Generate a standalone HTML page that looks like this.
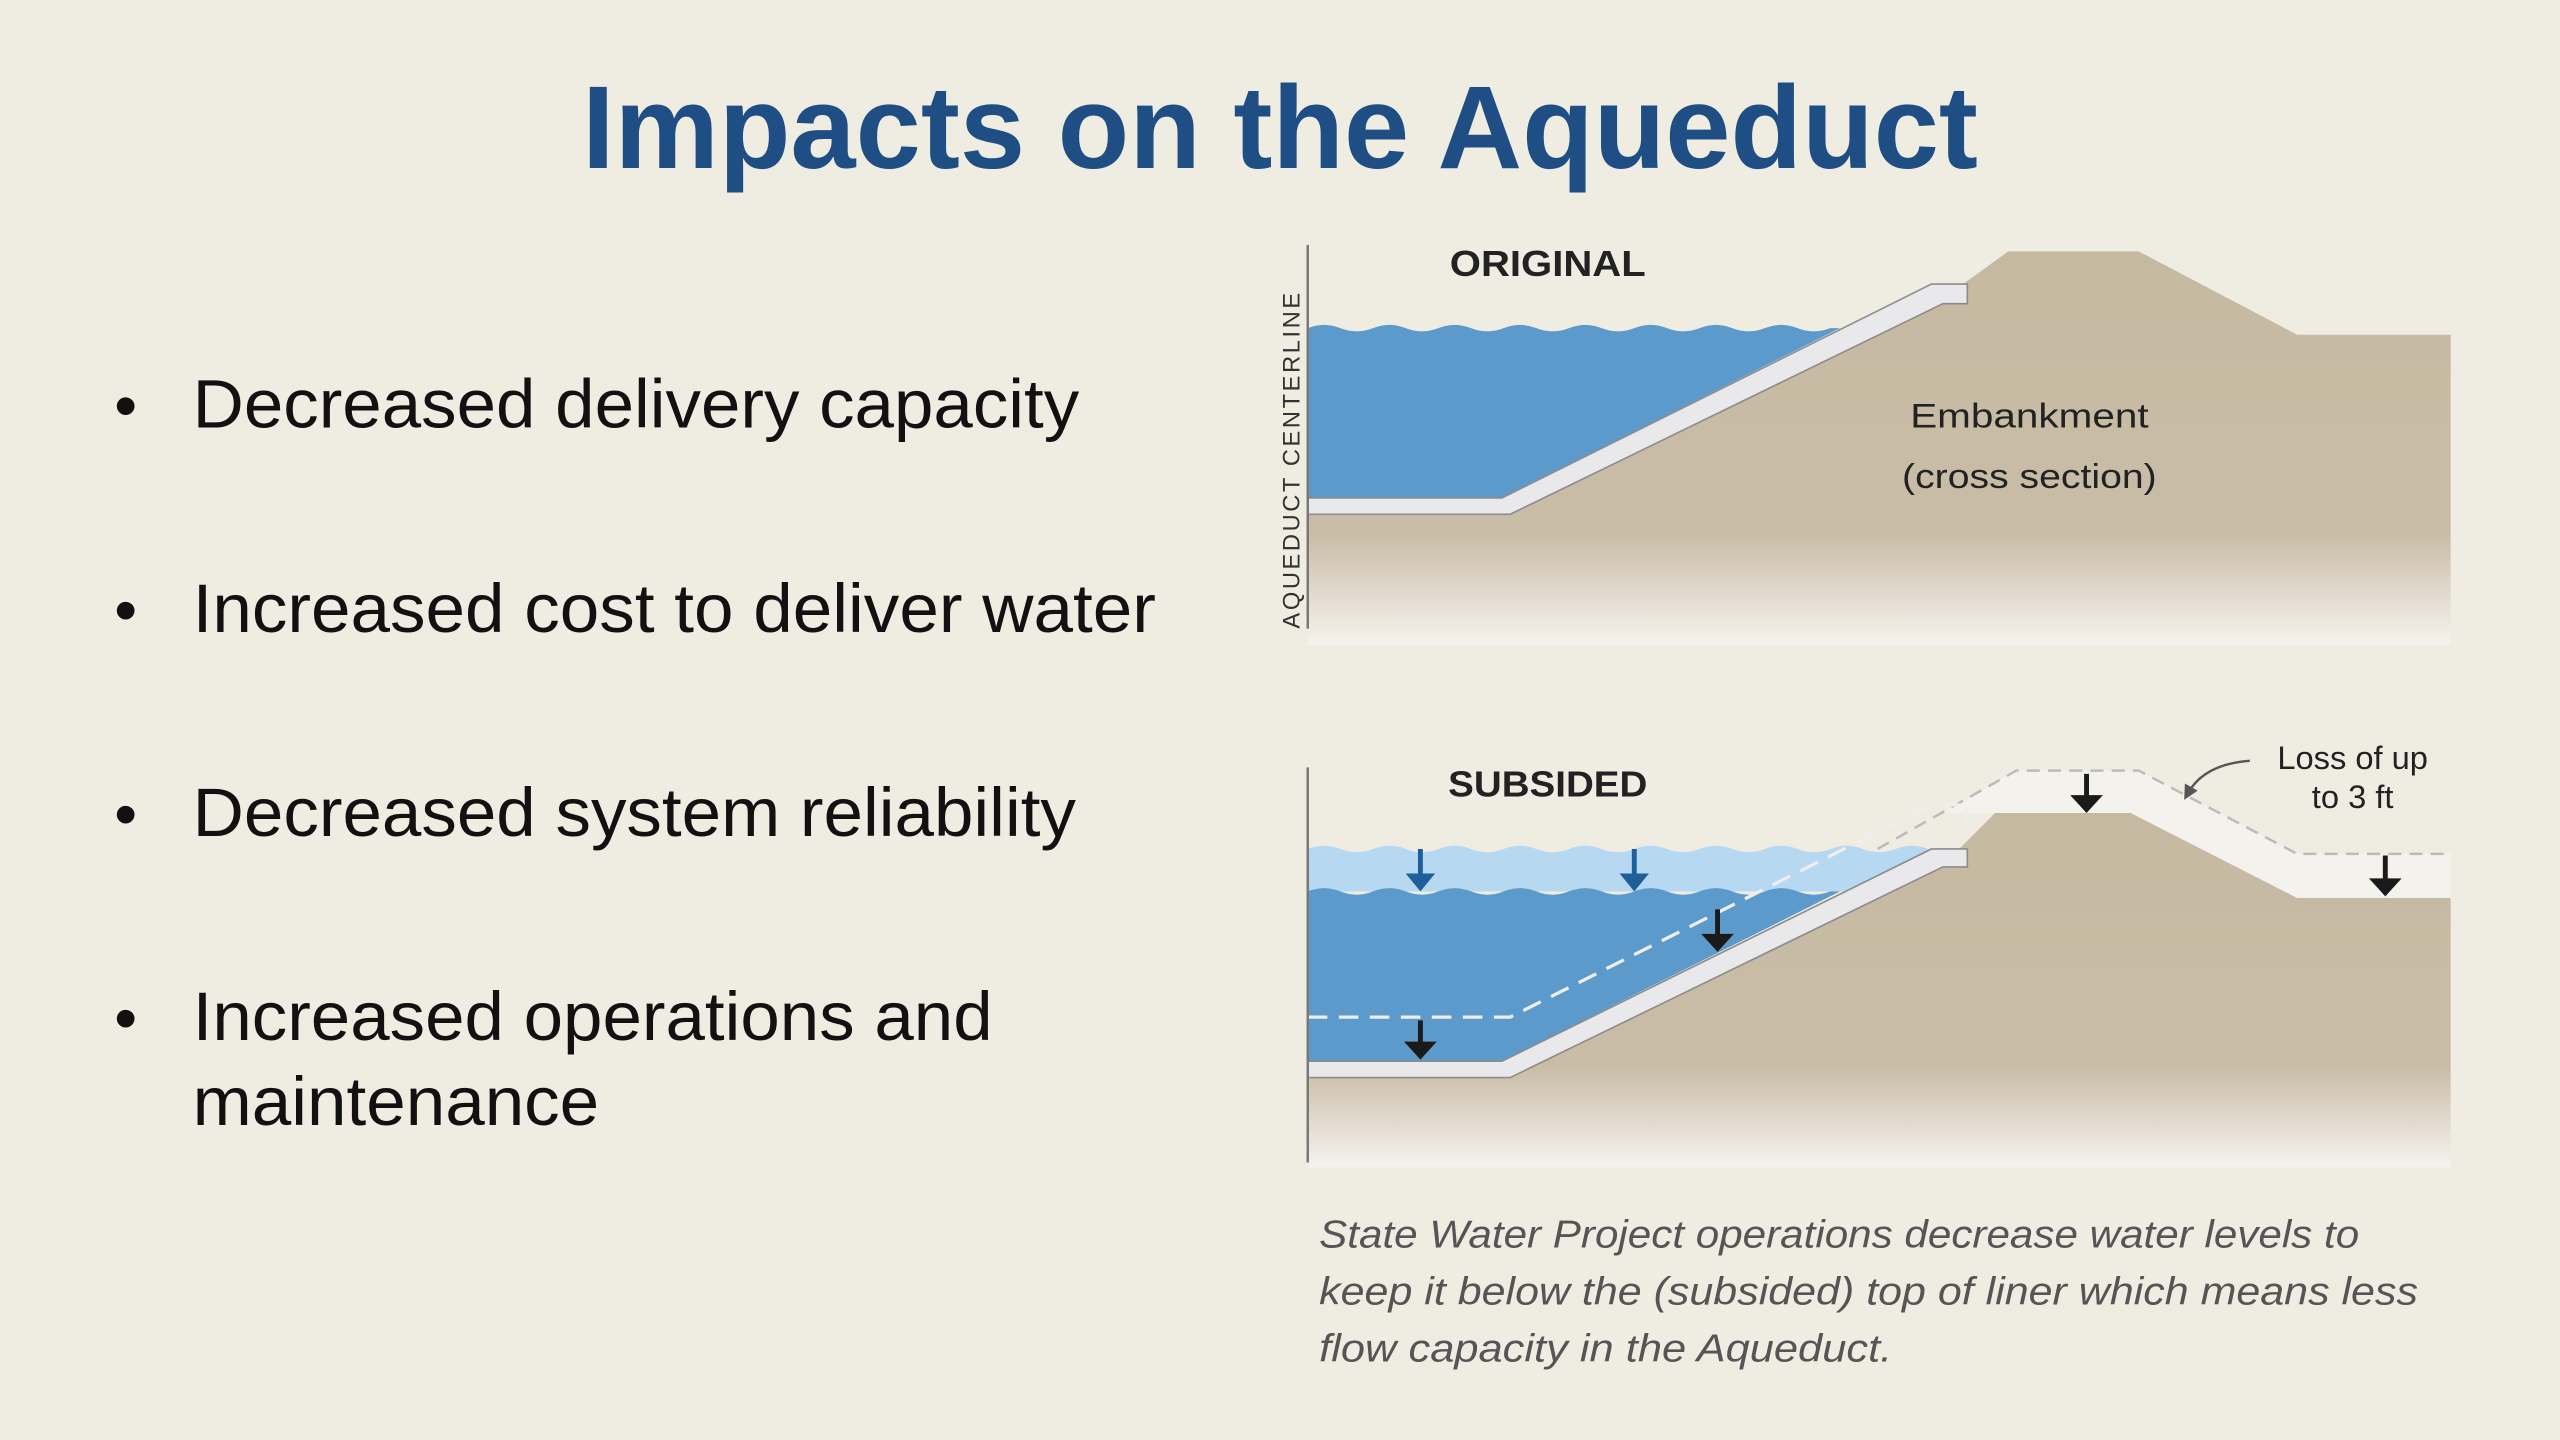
<!DOCTYPE html>
<html><head><meta charset="utf-8"><style>
html,body{margin:0;padding:0;background:#efece2;}
svg{display:block;}
</style></head><body>
<svg width="2560" height="1440" viewBox="0 0 1568 882" xmlns="http://www.w3.org/2000/svg" font-family="Liberation Sans, sans-serif">
<defs>
<linearGradient id="g1" x1="0" y1="0" x2="0" y2="1" gradientUnits="objectBoundingBox">
<stop offset="0" stop-color="#c6b9a2"/><stop offset="0.72" stop-color="#c9bda7"/><stop offset="1" stop-color="#f6f3ee"/></linearGradient>
<marker id="ah" markerWidth="6" markerHeight="6" refX="3" refY="3" orient="auto"><path d="M0,0 L6,3 L0,6 z" fill="#555"/></marker>
</defs>
<rect width="1568" height="882" fill="#efece2"/>
<text x="784" y="103" text-anchor="middle" font-size="72" font-weight="bold" fill="#1f4e85" textLength="855" lengthAdjust="spacingAndGlyphs">Impacts on the Aqueduct</text>
<g font-size="42" fill="#111">
<text x="70" y="262" font-size="40">•</text><text x="118" y="262" textLength="543" lengthAdjust="spacingAndGlyphs">Decreased delivery capacity</text>
<text x="70" y="387" font-size="40">•</text><text x="118" y="387" textLength="590" lengthAdjust="spacingAndGlyphs">Increased cost to deliver water</text>
<text x="70" y="512" font-size="40">•</text><text x="118" y="512" textLength="541" lengthAdjust="spacingAndGlyphs">Decreased system reliability</text>
<text x="70" y="637" font-size="40">•</text><text x="118" y="637" textLength="490" lengthAdjust="spacingAndGlyphs">Increased operations and</text>
<text x="118" y="689" textLength="249" lengthAdjust="spacingAndGlyphs">maintenance</text>
</g>

<g>
<polygon points="801,315 925,315 1190,183 1230,154 1310,154 1407,205 1501,205 1501,395 801,395" fill="url(#g1)"/>
<path d="M801,201 q10,-4 20,0 t20,0 t20,0 t20,0 t20,0 t20,0 t20,0 t20,0 t20,0 t20,0 t20,0 t20,0 t20,0 t20,0 t20,0 t20,0 L1127,201 L920,305 L801,305 z" fill="#5b9acb"/>
<polygon points="801,305 920,305 1183,174 1205,174 1205,186 1190,186 925,315 801,315" fill="#e9e9ec" stroke="#8c8c8c" stroke-width="1"/>
<line x1="801" y1="150" x2="801" y2="385" stroke="#777" stroke-width="1.5"/>
<text transform="translate(796,385) rotate(-90)" font-size="14.5" letter-spacing="1.6" fill="#333">AQUEDUCT  CENTERLINE</text>
<text x="888" y="169" font-size="22" font-weight="bold" fill="#222" textLength="120" lengthAdjust="spacingAndGlyphs">ORIGINAL</text>
<text x="1243" y="262" text-anchor="middle" font-size="21" fill="#222" textLength="146" lengthAdjust="spacingAndGlyphs">Embankment</text>
<text x="1243" y="299" text-anchor="middle" font-size="21" fill="#222" textLength="156" lengthAdjust="spacingAndGlyphs">(cross section)</text>
</g>

<g>
<polygon points="1190,498 1235,472 1310,472 1407,523 1501,523 1501,550 1407,550 1305,498 1222,498" fill="#f4f2ed"/>
<polyline points="1150,520 1235,472 1310,472 1407,523 1501,523" fill="none" stroke="#bbb" stroke-width="1.5" stroke-dasharray="8,5"/>
<polygon points="801,660 925,660 1190,530 1222,498 1305,498 1407,550 1501,550 1501,715 801,715" fill="url(#g1)"/>
<path d="M801,520 q10,-4 20,0 t20,0 t20,0 t20,0 t20,0 t20,0 t20,0 t20,0 t20,0 t20,0 t20,0 t20,0 t20,0 t20,0 t20,0 t20,0 t20,0 t20,0 t20,0 L1183,520 L1130,546 L801,546 z" fill="#b7d8f1"/>
<path d="M801,546 q10,-4 20,0 t20,0 t20,0 t20,0 t20,0 t20,0 t20,0 t20,0 t20,0 t20,0 t20,0 t20,0 t20,0 t20,0 t20,0 t20,0 L1127,546 L920,650 L801,650 z" fill="#5b9acb"/>
<polygon points="801,650 920,650 1183,520 1205,520 1205,531 1190,531 925,660 801,660" fill="#e9e9ec" stroke="#8c8c8c" stroke-width="1"/>
<polyline points="801,623 925,623 1183,493 1205,493 1205,505" fill="none" stroke="#eee" stroke-width="2" stroke-dasharray="12,7"/>
<line x1="801" y1="470" x2="801" y2="712" stroke="#777" stroke-width="1.5"/>
<text x="887" y="488" font-size="22" font-weight="bold" fill="#222" textLength="122" lengthAdjust="spacingAndGlyphs">SUBSIDED</text>
<g stroke="#1f5f99" stroke-width="3" fill="#1f5f99">
<line x1="870" y1="520" x2="870" y2="537"/><polygon points="861,535 879,535 870,546" stroke="none"/>
<line x1="1001" y1="520" x2="1001" y2="537"/><polygon points="992,535 1010,535 1001,546" stroke="none"/>
</g>
<g stroke="#1a1a1a" stroke-width="3" fill="#1a1a1a">
<line x1="870" y1="625" x2="870" y2="640"/><polygon points="860,638 880,638 870,649" stroke="none"/>
<line x1="1052" y1="557" x2="1052" y2="574"/><polygon points="1042,572 1062,572 1052,583" stroke="none"/>
<line x1="1278" y1="474" x2="1278" y2="489"/><polygon points="1268,487 1288,487 1278,498" stroke="none"/>
<line x1="1461" y1="524" x2="1461" y2="540"/><polygon points="1451,538 1471,538 1461,549" stroke="none"/>
</g>
<path d="M1378,466 q-28,2 -38,20" fill="none" stroke="#555" stroke-width="1.5" marker-end="url(#ah)"/>
<text x="1441" y="471" text-anchor="middle" font-size="20" fill="#222">Loss of up</text>
<text x="1441" y="495" text-anchor="middle" font-size="20" fill="#222">to 3 ft</text>
</g>

<g font-size="24" font-style="italic" fill="#555">
<text x="808" y="764" textLength="637" lengthAdjust="spacingAndGlyphs">State Water Project operations decrease water levels to</text>
<text x="808" y="799" textLength="673" lengthAdjust="spacingAndGlyphs">keep it below the (subsided) top of liner which means less</text>
<text x="808" y="834" textLength="351" lengthAdjust="spacingAndGlyphs">flow capacity in the Aqueduct.</text>
</g>
</svg>
</body></html>
